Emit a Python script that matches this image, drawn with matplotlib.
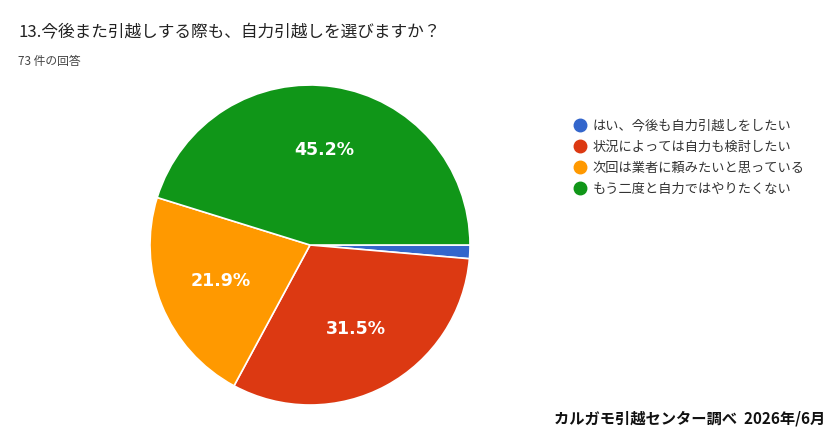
import matplotlib.pyplot as plt
from matplotlib.lines import Line2D

plt.rcParams['font.family'] = ['Noto Sans CJK JP', 'DejaVu Sans']

labels = ['はい、今後も自力引越しをしたい', '状況によっては自力も検討したい',
          '次回は業者に頼みたいと思っている', 'もう二度と自力ではやりたくない']
counts = [1, 23, 16, 33]
colors = ['#3366cc', '#dc3912', '#ff9900', '#109618']

fig = plt.figure(figsize=(8.4, 4.42), dpi=100)
ax = fig.add_axes([(310 - 160) / 840, (442 - 245 - 160) / 442, 320 / 840, 320 / 442])

def fmt(p):
    return f'{p:.1f}%' if p > 5 else ''

wedges, texts, autotexts = ax.pie(counts, colors=colors, startangle=0, counterclock=False,
                                  autopct=fmt, pctdistance=0.6,
                                  wedgeprops=dict(edgecolor='white', linewidth=1.2),
                                  textprops=dict(color='white', fontsize=12.5, fontweight='bold',
                                                 family='DejaVu Sans'))
ax.set_xlim(-1, 1)
ax.set_ylim(-1, 1)
ax.set_aspect('equal')
ax.axis('off')

fig.text(18 / 840, 1 - 32 / 442, '13.今後また引越しする際も、自力引越しを選びますか？',
         fontsize=12, color='#222222', va='center')
fig.text(18 / 840, 1 - 62 / 442, '73 件の回答', fontsize=8.5, color='#444444', va='center')

handles = [Line2D([], [], marker='o', linestyle='', markersize=9, markerfacecolor=c,
                  markeredgecolor=c) for c in colors]
fig.legend(handles, labels, loc='upper left', bbox_to_anchor=(562 / 840, 1 - 108 / 442),
           frameon=False, fontsize=9.5, handlelength=1.0, handletextpad=0.4,
           labelspacing=0.6, labelcolor='#333333')

fig.text(825 / 840, 1 - 418 / 442, 'カルガモ引越センター調べ  2026年/6月', fontsize=11,
         fontweight='bold', ha='right', va='center', color='#111111')

fig.savefig('out.png', dpi=100)
